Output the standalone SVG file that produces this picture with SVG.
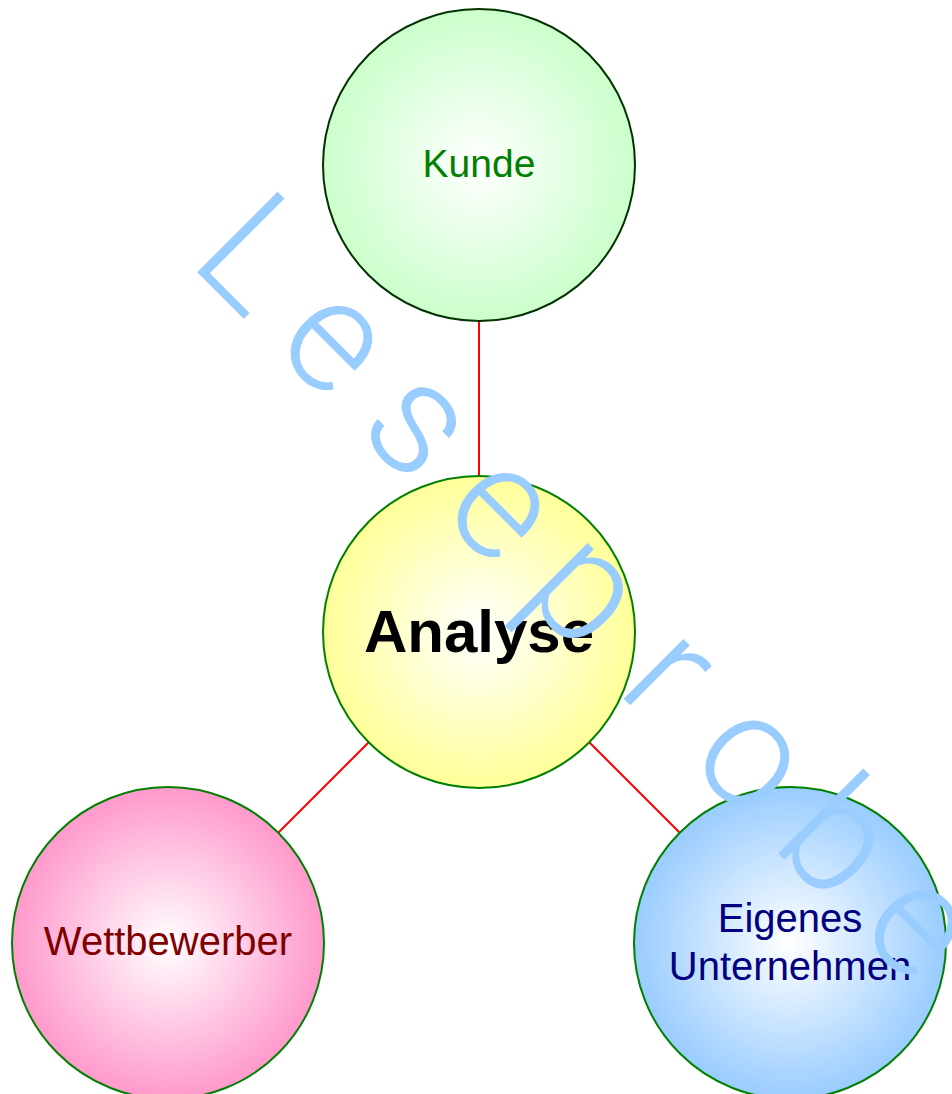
<svg xmlns="http://www.w3.org/2000/svg" width="952" height="1094" viewBox="0 0 952 1094">
<style>
.node{stroke:#008000;stroke-width:2}
.lbl{font-family:"Liberation Sans",Arial,sans-serif;font-size:40px;text-anchor:middle}
.conn line{stroke:#ff0000;stroke-width:2}
.wm{font-family:Roboto,"Liberation Mono",monospace;font-weight:300;font-size:160px;fill:#99ccff;text-anchor:middle}
</style>
<defs>
<radialGradient id="gG"><stop offset="0" stop-color="#ffffff"/><stop offset="1" stop-color="#ccffcc"/></radialGradient>
<radialGradient id="gY"><stop offset="0" stop-color="#ffffff"/><stop offset="1" stop-color="#ffff99"/></radialGradient>
<radialGradient id="gP"><stop offset="0" stop-color="#ffffff"/><stop offset="1" stop-color="#ff99cc"/></radialGradient>
<radialGradient id="gB"><stop offset="0" stop-color="#ffffff"/><stop offset="1" stop-color="#99ccff"/></radialGradient>
</defs>
<rect width="952" height="1094" fill="#ffffff"/>
<g id="connectors" class="conn">
<line x1="479" y1="321" x2="479" y2="477"/>
<line x1="369" y1="742" x2="278" y2="833"/>
<line x1="589" y1="742" x2="680" y2="833"/>
</g>
<g id="kunde">
<circle cx="479" cy="165" r="156" fill="url(#gG)" stroke="#003300" stroke-width="2"/>
<text class="lbl" x="479" y="177" fill="#008000" style="font-size:39px">Kunde</text>
</g>
<g id="analyse">
<circle class="node" cx="479" cy="632" r="156" fill="url(#gY)"/>
<text class="lbl" x="479" y="652" fill="#000000" style="font-size:60px;font-weight:bold">Analyse</text>
</g>
<g id="wettbewerber">
<circle class="node" cx="168" cy="943" r="156" fill="url(#gP)"/>
<text class="lbl" x="168" y="955" fill="#800000">Wettbewerber</text>
</g>
<g id="eigenes">
<circle class="node" cx="790" cy="943" r="156" fill="url(#gB)"/>
<text class="lbl" x="790" y="932" fill="#000080">Eigenes</text>
<text class="lbl" x="790" y="980" fill="#000080">Unternehmen</text>
</g>
<g id="watermark">
<text class="wm" transform="translate(183,258) rotate(45)" x="48 166 284 402 520 638 756 874 992" y="0">Leseprobe</text>
</g>
</svg>
